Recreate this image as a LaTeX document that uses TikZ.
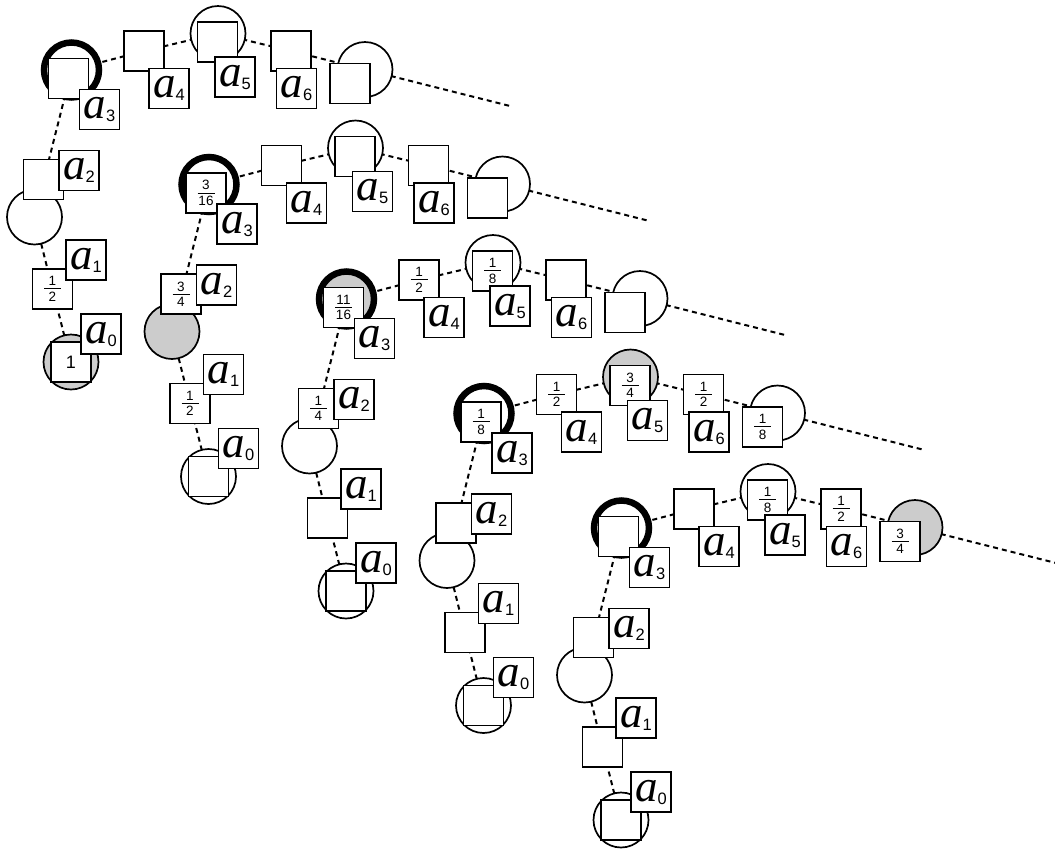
\RequirePackage{fix-cm}
\documentclass[tikz,border=0pt]{standalone}
\usepackage{fontspec}
\setmainfont{Liberation Sans}
\newfontfamily\timesf{Liberation Serif}
\colorlet{gris}{gray!40}
\newcommand{\fr}[2]{$\vcenter{\hbox to17pt{\hss#1\hss}\kern2.5pt\hrule height1pt\kern2.5pt\hbox to17pt{\hss#2\hss}}$}
\newcommand{\nom}[1]{{\timesf\itshape a}\raisebox{-3pt}{\fontsize{16.5}{16.5}\selectfont #1}}

\begin{document}
\begin{tikzpicture}[x=1pt, y=-1pt,
    chemin/.style={line width=2pt, dash pattern=on 5pt off 4pt},
    rond/.style={circle, draw, line width=1.7pt, minimum size=55pt, inner sep=0pt},
    carre/.style={rectangle, draw, fill=white, line width=1.7pt, minimum size=40pt, inner sep=0pt, font=\fontsize{13.5}{14}\selectfont},
    etiquette/.style={carre, font=\fontsize{45}{45}\selectfont}]
  \useasboundingbox (0,0) rectangle (1055,855);
  % Une chaine par etape : decalage, cercle gris, valeurs de a0 a a7
  \foreach \k/\ig/\va/\vb/\vc/\vd/\ve/\vf/\vg/\vh in {
      0/0/{\fontsize{18}{18}\selectfont 1}/\fr12/{}/{}/{}/{}/{}/{},
      1/2/{}/\fr12/\fr34/\fr3{16}/{}/{}/{}/{},
      2/3/{}/{}/\fr14/\fr{11}{16}/\fr12/\fr18/{}/{},
      3/5/{}/{}/{}/\fr18/\fr12/\fr34/\fr12/\fr18,
      4/7/{}/{}/{}/{}/{}/\fr18/\fr12/\fr34}{
    \begin{scope}[shift={(\k*137.5,\k*114.5)}]
      % Sommets de la chaine
      \coordinate (p\k-0) at (71,362);
      \coordinate (p\k-1) at (52.5,289);
      \coordinate (p\k-2) at (34.5,217);
      \coordinate (p\k-3) at (71.5,70);
      \coordinate (p\k-4) at (144,51);
      \coordinate (p\k-5) at (218,33.5);
      \coordinate (p\k-6) at (291,51);
      \coordinate (p\k-7) at (365,69.5);
      \coordinate (fin\k) at (510,106);
      \draw[chemin] (p\k-0) -- (p\k-1) -- (p\k-2) -- (p\k-3) -- (p\k-4)
        -- (p\k-5) -- (p\k-6) -- (p\k-7) -- (fin\k);

      % Cercles (a3 en trait epais)
      \foreach \i in {0,2,3,5,7}{
        \ifnum\i=\ig \colorlet{fond}{gris}\else\colorlet{fond}{white}\fi
        \ifnum\i=3 \def\trait{6.5pt}\else\def\trait{1.7pt}\fi
        \node[rond, fill=fond, line width=\trait] (c\k-\i) at (p\k-\i) {};
      }

      % Valeurs
      \node[carre] (v\k-0) at (71,362) {\va};
      \node[carre] (v\k-1) at (52.5,289) {\vb};
      \node[carre] (v\k-2) at (43.5,179.5) {\vc};
      \node[carre] (v\k-3) at (68.5,78.5) {\vd};
      \node[carre] (v\k-4) at (144,51) {\ve};
      \node[carre] (v\k-5) at (217.5,42) {\vf};
      \node[carre] (v\k-6) at (291,51) {\vg};
      \node[carre] (v\k-7) at (350,83.5) {\vh};

      % Etiquettes
      \node[etiquette] (l\k-0) at (101,334) {\nom0};
      \node[etiquette] (l\k-1) at (86,260) {\nom1};
      \node[etiquette] (l\k-2) at (79,170.5) {\nom2};
      \node[etiquette] (l\k-3) at (99.5,109.5) {\nom3};
      \node[etiquette] (l\k-4) at (169,88.5) {\nom4};
      \node[etiquette] (l\k-5) at (235,77) {\nom5};
      \node[etiquette] (l\k-6) at (296.5,88.5) {\nom6};
    \end{scope}
  }
\end{tikzpicture}
\end{document}
